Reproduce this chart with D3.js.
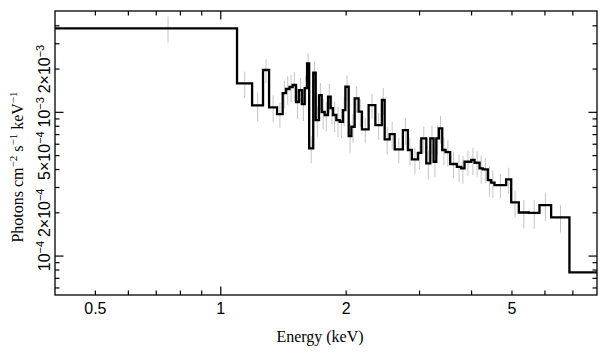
<!DOCTYPE html>
<html><head><meta charset="utf-8">
<script src="https://cdn.jsdelivr.net/npm/d3@7/dist/d3.min.js"></script>
<style>body{margin:0;background:#fff}svg{display:block}</style>
</head><body>
<svg id="c" width="609" height="357"></svg>
<script>
// bin edges (keV)
const edges = [0.4, 1.094, 1.189, 1.263, 1.306, 1.365, 1.408, 1.434, 1.462, 1.488, 1.516, 1.541, 1.567, 1.590, 1.611, 1.630, 1.667, 1.690, 1.721, 1.747, 1.776, 1.809, 1.835, 1.859, 1.894, 1.929, 1.965, 1.991, 2.028, 2.058, 2.096, 2.142, 2.182, 2.264, 2.350, 2.436, 2.474, 2.543, 2.615, 2.736, 2.813, 2.876, 2.973, 3.029, 3.114, 3.184, 3.242, 3.291, 3.338, 3.401, 3.464, 3.554, 3.687, 3.778, 3.847, 3.993, 4.066, 4.180, 4.256, 4.375, 4.458, 4.540, 4.843, 4.979, 5.193, 5.487, 5.821, 6.209, 6.869, 8.0];
// flux per bin (1e-3 photons cm^-2 s^-1 keV^-1)
const flux = [3.843, 1.591, 1.119, 1.970, 1.083, 0.973, 1.362, 1.453, 1.500, 1.549, 1.180, 1.429, 1.142, 1.476, 2.193, 0.562, 1.886, 0.884, 1.319, 1.005, 0.958, 1.284, 1.071, 0.958, 0.884, 0.860, 1.037, 1.507, 0.684, 0.794, 1.252, 1.010, 0.762, 1.124, 0.816, 1.218, 0.649, 0.706, 0.553, 0.753, 0.547, 0.471, 0.523, 0.659, 0.442, 0.659, 0.453, 0.659, 0.774, 0.547, 0.529, 0.437, 0.418, 0.408, 0.453, 0.466, 0.446, 0.408, 0.401, 0.338, 0.324, 0.312, 0.342, 0.236, 0.201, 0.200, 0.226, 0.186, 0.077];
// 1-sigma errors (same units)
const fluxErr = [0.80, 0.33, 0.25, 0.37, 0.23, 0.19, 0.30, 0.33, 0.32, 0.36, 0.28, 0.31, 0.27, 0.33, 0.38, 0.12, 0.38, 0.21, 0.28, 0.24, 0.22, 0.29, 0.24, 0.23, 0.21, 0.20, 0.24, 0.30, 0.16, 0.18, 0.26, 0.22, 0.15, 0.22, 0.17, 0.26, 0.14, 0.15, 0.11, 0.16, 0.12, 0.10, 0.12, 0.14, 0.10, 0.15, 0.10, 0.15, 0.17, 0.12, 0.11, 0.09, 0.09, 0.09, 0.09, 0.10, 0.09, 0.09, 0.08, 0.08, 0.07, 0.06, 0.07, 0.05, 0.045, 0.045, 0.05, 0.04, 0];

const xTickLabels = [0.5, 1, 2, 5];
const xMajorTicks = [1];
const xMinorTicks = [0.5, 0.6, 0.7, 0.8, 0.9, 2, 3, 4, 5, 6, 7];
const yMajorTicks = [1e-4, 1e-3];
const yMinorTicks = [6e-5, 7e-5, 8e-5, 9e-5, 2e-4, 3e-4, 4e-4, 5e-4, 6e-4, 7e-4, 8e-4, 9e-4, 2e-3, 3e-3, 4e-3];
const yTickLabels = [[1e-4, "", "−4"], [2e-4, "2×", "−4"], [5e-4, "5×", "−4"], [1e-3, "", "−3"], [2e-3, "2×", "−3"]];

const L = 55, R = 597, T = 11, B = 295;
const x = d3.scaleLog().domain([0.4, 8]).range([L, R]);
const y = d3.scaleLog().domain([5.36e-5, 5.07e-3]).range([B, T]);

const svg = d3.select("#c");

// error bars
const bins = flux.map((v, i) => ({lo: edges[i], hi: edges[i + 1], v: v * 1e-3, e: fluxErr[i] * 1e-3}));
svg.append("g").attr("stroke", "#c4c4c4").attr("stroke-width", 1)
  .selectAll("line").data(bins.filter(d => d.e > 0)).join("line")
  .attr("x1", d => x((d.lo + d.hi) / 2)).attr("x2", d => x((d.lo + d.hi) / 2))
  .attr("y1", d => y(d.v + d.e)).attr("y2", d => y(Math.max(d.v - d.e, 1e-6)));

// step line
const pts = [];
bins.forEach(d => { pts.push([d.lo, d.v]); pts.push([d.hi, d.v]); });
svg.append("path").datum(pts)
  .attr("d", d3.line().x(d => x(d[0])).y(d => y(d[1])))
  .attr("fill", "none").attr("stroke", "#000").attr("stroke-width", 2.3)
  .attr("stroke-linejoin", "miter");

// frame
svg.append("rect").attr("x", L).attr("y", T).attr("width", R - L).attr("height", B - T)
  .attr("fill", "none").attr("stroke", "#000").attr("stroke-width", 1.3);

// ticks
const tk = svg.append("g").attr("stroke", "#000").attr("stroke-width", 1.2);
function xt(vals, len) {
  vals.forEach(v => {
    tk.append("line").attr("x1", x(v)).attr("x2", x(v)).attr("y1", B).attr("y2", B - len);
    tk.append("line").attr("x1", x(v)).attr("x2", x(v)).attr("y1", T).attr("y2", T + len);
  });
}
function yt(vals, len) {
  vals.forEach(v => {
    tk.append("line").attr("y1", y(v)).attr("y2", y(v)).attr("x1", L).attr("x2", L + len);
    tk.append("line").attr("y1", y(v)).attr("y2", y(v)).attr("x1", R).attr("x2", R - len);
  });
}
xt(xMinorTicks, 4.5); xt(xMajorTicks, 8.5);
yt(yMinorTicks, 4.5); yt(yMajorTicks, 8.5);

// x tick labels
svg.append("g").selectAll("text").data(xTickLabels).join("text")
  .attr("x", d => x(d)).attr("y", 313.5).attr("text-anchor", "middle")
  .attr("font-family", "Liberation Sans, Arial, sans-serif").attr("font-size", 16)
  .text(d => d);

// y tick labels
yTickLabels.forEach(([v, pre, ex]) => {
  const t = svg.append("text").attr("transform", `translate(50,${y(v)}) rotate(-90)`)
    .attr("text-anchor", "middle")
    .attr("font-family", "Liberation Sans, Arial, sans-serif").attr("font-size", 16);
  t.append("tspan").text(pre + "10");
  t.append("tspan").attr("font-size", 11).attr("dy", -6).text(ex);
});

// axis titles
svg.append("text").attr("x", 320).attr("y", 342).attr("text-anchor", "middle")
  .attr("font-family", "Liberation Serif, Times New Roman, serif").attr("font-size", 16)
  .text("Energy (keV)");

const yt2 = svg.append("text").attr("transform", "translate(23,167) rotate(-90)")
  .attr("text-anchor", "middle")
  .attr("font-family", "Liberation Serif, Times New Roman, serif").attr("font-size", 16);
yt2.append("tspan").text("Photons cm");
yt2.append("tspan").attr("font-size", 11).attr("dy", -6).text("−2");
yt2.append("tspan").attr("dy", 6).text(" s");
yt2.append("tspan").attr("font-size", 11).attr("dy", -6).text("−1");
yt2.append("tspan").attr("dy", 6).text(" keV");
yt2.append("tspan").attr("font-size", 11).attr("dy", -6).text("−1");
</script>
</body></html>
